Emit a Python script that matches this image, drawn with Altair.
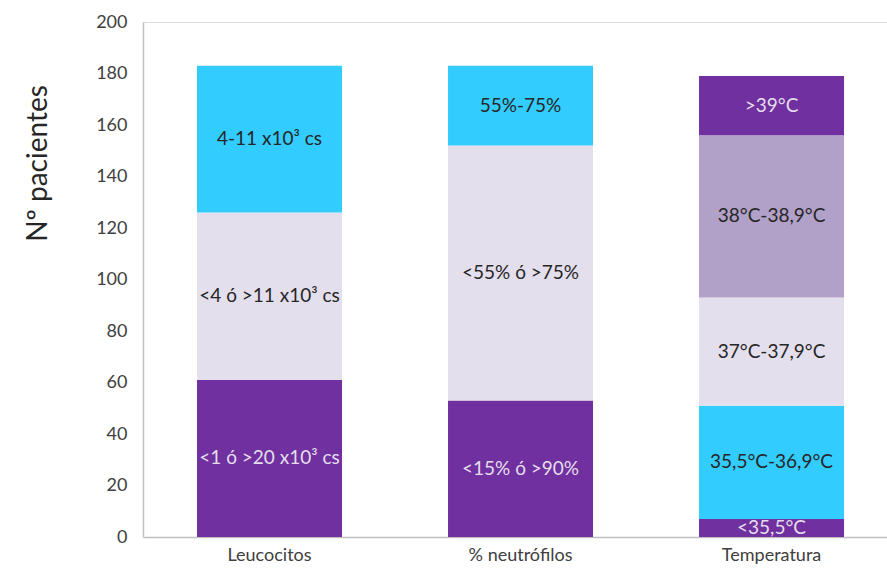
import altair as alt
import pandas as pd

categories = ["Leucocitos", "% neutrófilos", "Temperatura"]
leuco_labels = ["<1 ó >20 x10³ cs", "<4 ó >11 x10³ cs", "4-11 x10³ cs"]
leuco_values = [61, 65, 57]
neutro_labels = ["<15% ó >90%", "<55% ó >75%", "55%-75%"]
neutro_values = [53, 99, 31]
temp_labels = ["<35,5°C", "35,5°C-36,9°C", "37°C-37,9°C", "38°C-38,9°C", ">39°C"]
temp_values = [7, 44, 42, 63, 23]

PURPLE = "#7030A0"
LAV = "#E4DFEC"
CYAN = "#33CCFF"
MLAV = "#B1A0C7"
DARK = "#262626"
LIGHT = "#E4DFEC"

leuco_fill = [PURPLE, LAV, CYAN]
neutro_fill = [PURPLE, LAV, CYAN]
temp_fill = [PURPLE, CYAN, LAV, MLAV, PURPLE]

rows = []
for cat, labels, values, fills in [
    (categories[0], leuco_labels, leuco_values, leuco_fill),
    (categories[1], neutro_labels, neutro_values, neutro_fill),
    (categories[2], temp_labels, temp_values, temp_fill),
]:
    base = 0
    for i, (lab, v, f) in enumerate(zip(labels, values, fills)):
        rows.append({
            "cat": cat, "label": lab, "value": v, "y0": base, "y1": base + v,
            "mid": base + v / 2, "fill": f,
            "tcolor": LIGHT if f == PURPLE else DARK, "order": i,
        })
        base += v
df = pd.DataFrame(rows)

FONT = "Lato"

xenc = alt.X("cat:N", sort=categories, title=None,
             scale=alt.Scale(paddingInner=0.422, paddingOuter=0.193, align=0.557),
             axis=alt.Axis(labelAngle=0, ticks=False, tickSize=0, labelPadding=9,
                           labelFontSize=18, labelColor="#404040", labelFont=FONT,
                           domainColor="#BFBFBF", domainWidth=1.5, grid=False))

bars = alt.Chart(df).mark_bar(size=145).encode(
    x=xenc,
    y=alt.Y("y0:Q", scale=alt.Scale(domain=[0, 200], nice=False), title="Nº pacientes",
            axis=alt.Axis(values=list(range(0, 201, 20)), ticks=False, tickSize=0,
                          labelPadding=16, labelFontSize=18, labelColor="#404040",
                          labelFont=FONT, titleFont=FONT, titleFontSize=28,
                          titleFontWeight="normal", titleColor="#262626",
                          titleX=-105, titleY=141, titleAngle=270,
                          titleAlign="center", titleBaseline="middle",
                          domainColor="#BFBFBF", domainWidth=1.5,
                          grid=False)),
    y2="y1:Q",
    color=alt.Color("fill:N", scale=None),
)

texts = alt.Chart(df).mark_text(fontSize=19, font=FONT, baseline="middle").encode(
    x=alt.X("cat:N", sort=categories),
    y=alt.Y("mid:Q"),
    text="label:N",
    color=alt.Color("tcolor:N", scale=None),
)

chart = (bars + texts).properties(
    width=744, height=515,
    padding={"left": 143, "top": 22, "right": 0, "bottom": 35},
    autosize=alt.AutoSizeParams(type="none"),
).configure_view(stroke=None).configure(background="white")

chart.save("out.html", embed_options={"renderer": "svg", "actions": False})
